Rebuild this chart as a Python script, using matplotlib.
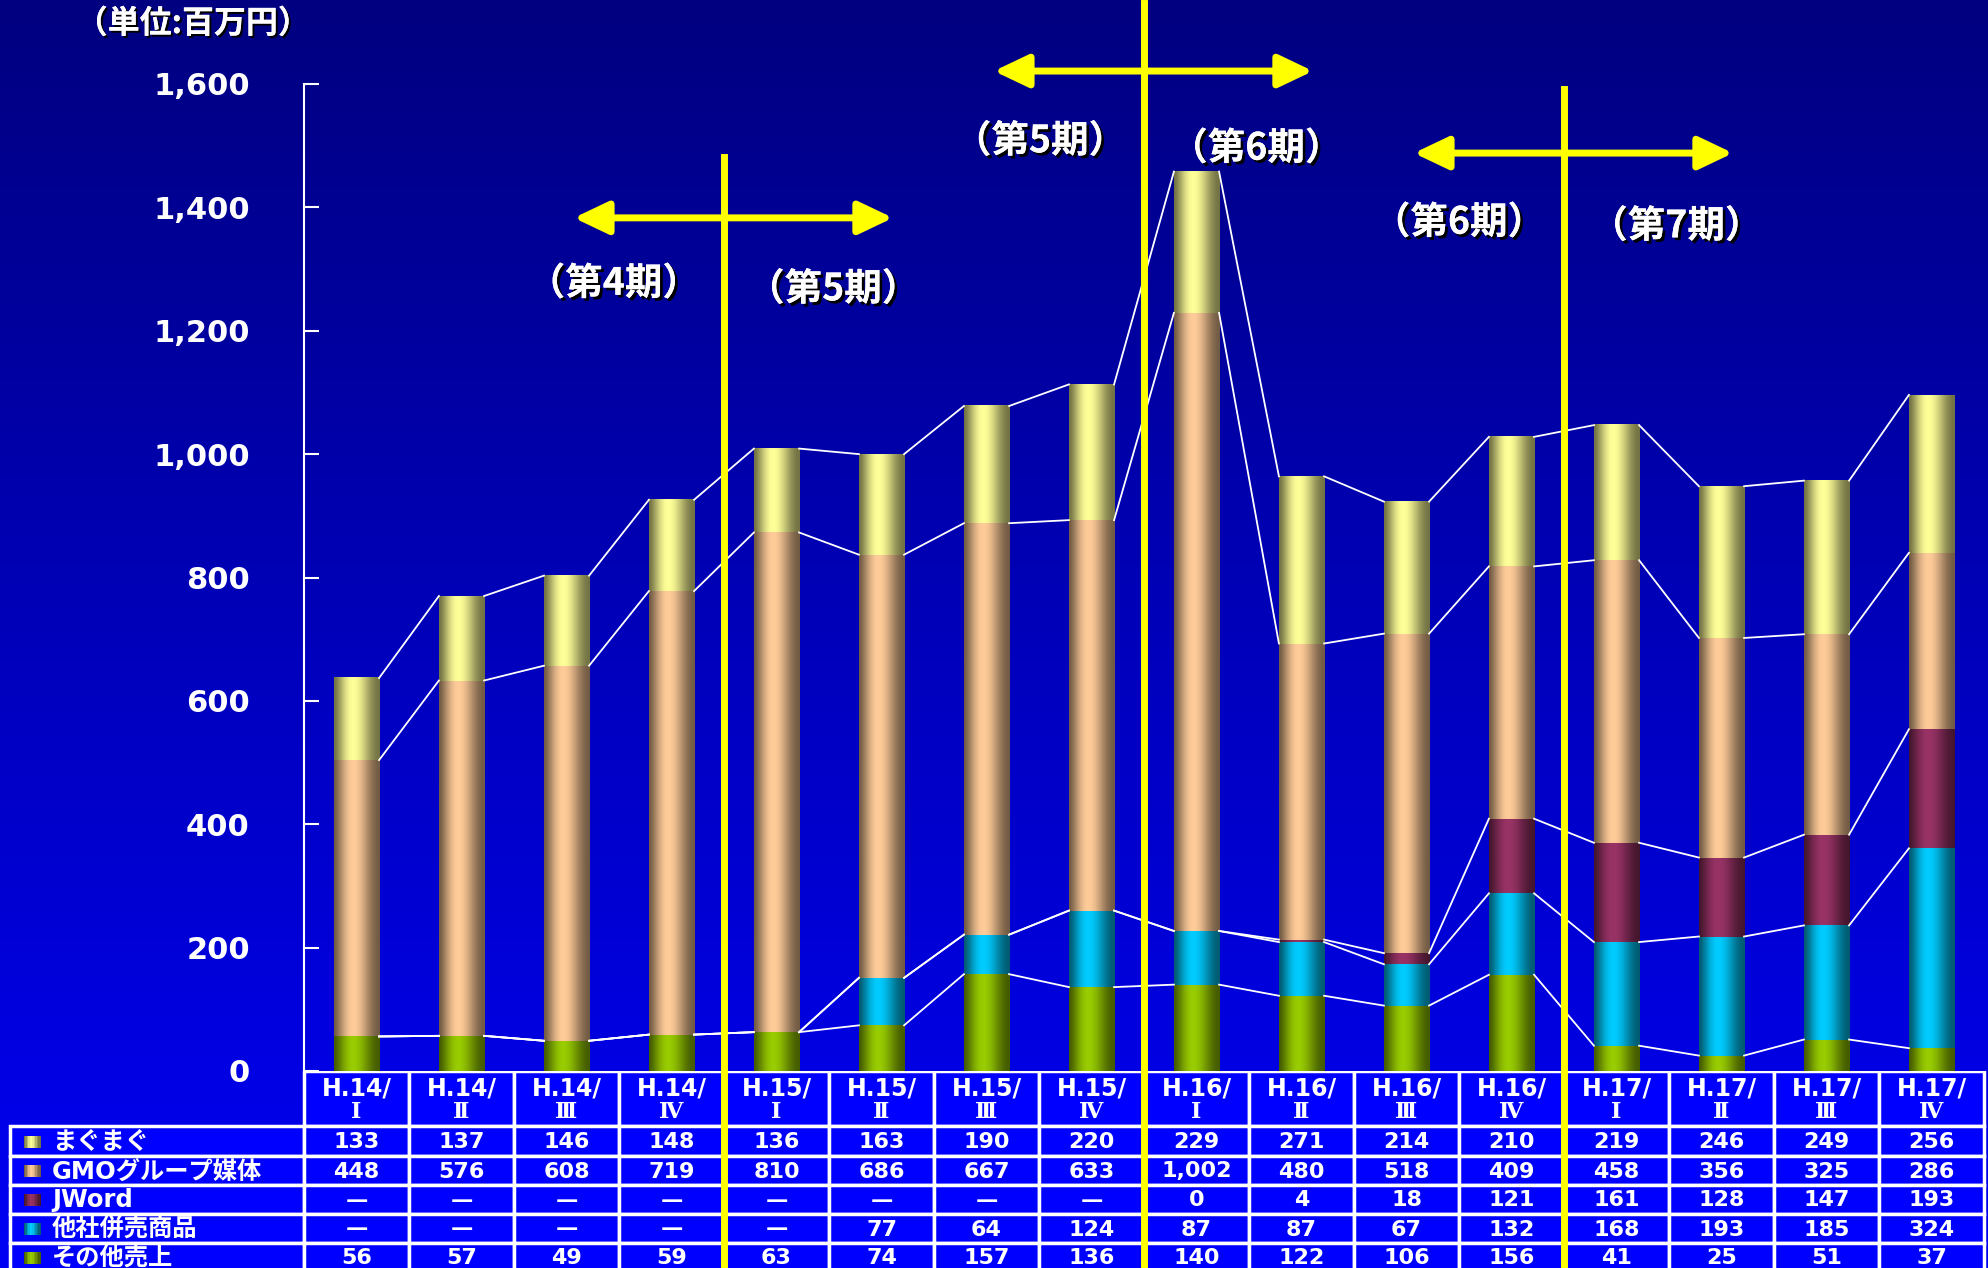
import numpy as np
import matplotlib
matplotlib.use('Agg')
import matplotlib.pyplot as plt
import matplotlib.patheffects as pe
import matplotlib.transforms as mtransforms
from matplotlib.patches import Rectangle, FancyArrowPatch

plt.rcParams['font.family'] = ['DejaVu Sans', 'Noto Sans CJK JP']

# データ (単位: 百万円), None は「—」
col_year = ['H.14/', 'H.14/', 'H.14/', 'H.14/', 'H.15/', 'H.15/', 'H.15/', 'H.15/',
            'H.16/', 'H.16/', 'H.16/', 'H.16/', 'H.17/', 'H.17/', 'H.17/', 'H.17/']
col_q = ['Ⅰ', 'Ⅱ', 'Ⅲ', 'Ⅳ'] * 4

names = ['まぐまぐ', 'GMOグループ媒体', 'JWord', '他社併売商品', 'その他売上']
magumagu = [133, 137, 146, 148, 136, 163, 190, 220, 229, 271, 214, 210, 219, 246, 249, 256]
gmo = [448, 576, 608, 719, 810, 686, 667, 633, 1002, 480, 518, 409, 458, 356, 325, 286]
jword = [None, None, None, None, None, None, None, None, 0, 4, 18, 121, 161, 128, 147, 193]
tasha = [None, None, None, None, None, 77, 64, 124, 87, 87, 67, 132, 168, 193, 185, 324]
sonota = [56, 57, 49, 59, 63, 74, 157, 136, 140, 122, 106, 156, 41, 25, 51, 37]

colors = ['#FFFF99', '#FFCC99', '#993366', '#00CCFF', '#99CC00']

# 期の区切り
boundaries = [3.5, 7.5, 11.5]
period_labels = ['（第4期）', '（第5期）', '（第5期）', '（第6期）', '（第6期）', '（第7期）']
label_x = [2.45, 4.54, 6.51, 8.57, 10.5, 12.57]
label_y = [1277, 1268, 1508, 1496, 1376, 1370]
arrow_y = [1383, 1621, 1488]

W, H = 1988, 1268
AX_L, AX_B, AX_T, COL_W = 304, 1071, 84, 105
n = len(magumagu)


def shade(color, steps=48):
    rgb = np.array(matplotlib.colors.to_rgb(color))
    u = np.linspace(0, 1, steps) ** 0.8
    f = 0.45 + 0.55 * np.sin(np.pi * u) ** 1.8
    return (f[:, None] * rgb[None, :])[None, :, :]


fig = plt.figure(figsize=(W / 100, H / 100), dpi=100)

# 背景グラデーション
bg = fig.add_axes([0, 0, 1, 1], zorder=-5)
g = np.linspace(0, 1, 256)[:, None]
bg_img = np.zeros((256, 1, 3))
bg_img[..., 2] = (128 + 117 * g) / 255
bg.imshow(bg_img, aspect='auto', extent=(0, 1, 0, 1), origin='upper')
bg.axis('off')

ax = fig.add_axes([AX_L / W, 1 - AX_B / H, n * COL_W / W, (AX_B - AX_T) / H], zorder=2)
ax.patch.set_alpha(0)

bar_w = 0.43
stack = [(sonota, colors[4]), (tasha, colors[3]), (jword, colors[2]),
         (gmo, colors[1]), (magumagu, colors[0])]
bottom = np.zeros(n)
tops = []
for vals, col in stack:
    v = np.array([0 if x is None else x for x in vals], float)
    img = shade(col)
    for i in range(n):
        if v[i] > 0:
            ax.imshow(img, extent=(i - bar_w / 2, i + bar_w / 2, bottom[i], bottom[i] + v[i]),
                      aspect='auto', interpolation='bilinear', zorder=3)
    bottom = bottom + v
    tops.append(bottom.copy())

# 系列線
for t in tops:
    for i in range(n - 1):
        ax.plot([i + bar_w / 2, i + 1 - bar_w / 2], [t[i], t[i + 1]],
                color='white', lw=1.3, zorder=4)

ax.set_xlim(-0.5, n - 0.5)
ax.set_ylim(0, 1600)
for s in ['top', 'right', 'bottom']:
    ax.spines[s].set_visible(False)
ax.spines['left'].set_color('white')
ax.spines['left'].set_linewidth(1.5)
ax.set_xticks([])
yt = np.arange(0, 1601, 200)
ax.set_yticks(yt)
ax.set_yticklabels([f'{v:,}' for v in yt], fontweight='bold')
ax.tick_params(axis='y', direction='in', length=11, width=1.5, color='white',
               labelcolor='white', labelsize=22, pad=39)

# 黄色の区切り線と矢印
trans = mtransforms.blended_transform_factory(ax.transData, fig.transFigure)
line_tops = [157, 3, 89]
for xb, tp in zip(boundaries, line_tops):
    ax.plot([xb, xb], [0, 1 - tp / H], transform=trans, color='#FFFF00', lw=5,
            clip_on=False, zorder=10)
for xb, ay in zip(boundaries, arrow_y):
    arr = FancyArrowPatch((xb - 1.43, ay), (xb + 1.61, ay),
                          arrowstyle='<|-|>,head_length=21,head_width=10',
                          mutation_scale=1, color='#FFFF00', lw=5,
                          shrinkA=0, shrinkB=0, clip_on=False, zorder=10)
    ax.add_patch(arr)

shadow = [pe.withSimplePatchShadow(offset=(2, -2), shadow_rgbFace='black', alpha=1), pe.Normal()]
for s, x, y in zip(period_labels, label_x, label_y):
    ax.text(x, y, s, ha='center', va='center', fontsize=27, fontweight='bold',
            color='white', family=['Noto Sans CJK JP'], path_effects=shadow,
            clip_on=False, zorder=11)

fig.text(193 / W, 1 - 24 / H, '（単位:百万円）', ha='center', va='center', fontsize=23,
         fontweight='bold', color='white', family=['Noto Sans CJK JP'],
         path_effects=[pe.withSimplePatchShadow(offset=(1.5, -1.5), shadow_rgbFace='black', alpha=1), pe.Normal()])

# データテーブル
tab = fig.add_axes([0, 0, 1, (H - AX_B) / H], zorder=1)
tab.patch.set_alpha(0)
head_bot = 1126
row_edges = [1126, 1156, 1185, 1214, 1243, 1272]
cell_kw = dict(fc='#0000FF', ec='white', lw=2.5)

for i in range(n):
    x0 = AX_L + i * COL_W
    cx = x0 + COL_W / 2
    tab.add_patch(Rectangle((x0, AX_B), COL_W, head_bot - AX_B, **cell_kw))
    tab.text(cx, 1089, col_year[i], ha='center', va='center', fontsize=17,
             fontweight='bold', color='white')
    tab.text(cx, 1112, col_q[i], ha='center', va='center', fontsize=16,
             fontweight='bold', color='white', family=['DejaVu Serif', 'Noto Sans CJK JP'])

rows = [magumagu, gmo, jword, tasha, sonota]
for r, (name, vals, col) in enumerate(zip(names, rows, colors)):
    y0, y1 = row_edges[r], row_edges[r + 1]
    cy = (y0 + y1) / 2 + 1
    tab.add_patch(Rectangle((10, y0), AX_L - 10, y1 - y0, **cell_kw))
    tab.imshow(shade(col, 12), extent=(24, 41, cy + 6, cy - 6), aspect='auto',
               interpolation='nearest', zorder=3)
    tab.text(52, cy, name, ha='left', va='center', fontsize=17.5, fontweight='bold',
             color='white')
    for i in range(n):
        x0 = AX_L + i * COL_W
        tab.add_patch(Rectangle((x0, y0), COL_W, y1 - y0, **cell_kw))
        txt = '—' if vals[i] is None else f'{vals[i]:,}'
        tab.text(x0 + COL_W / 2, cy, txt, ha='center', va='center', fontsize=16,
                 fontweight='bold', color='white')

tab.set_xlim(0, W)
tab.set_ylim(H, AX_B)
tab.axis('off')

fig.savefig('out.png', dpi=100, facecolor='#000080')
